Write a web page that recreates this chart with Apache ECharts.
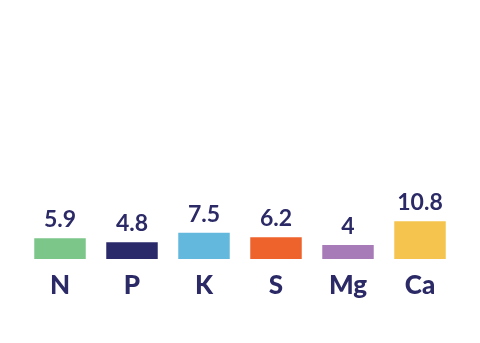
<!DOCTYPE html>
<html><head><meta charset="utf-8">
<script src="https://cdn.jsdelivr.net/npm/echarts@6/dist/echarts.min.js"></script>
<style>html,body{margin:0;padding:0;background:#fff}#c{width:480px;height:343px}</style>
</head><body><div id="c"></div>
<script>
const categories = ['N', 'P', 'K', 'S', 'Mg', 'Ca'];
const values = [5.9, 4.8, 7.5, 6.2, 4, 10.8];
const colors = ['#7CC68A', '#2A2A6B', '#63B8DE', '#EE622B', '#A77BB7', '#F4C44E'];
const textColor = '#2B2A66';
const chart = echarts.init(document.getElementById('c'));
chart.setOption({
  animation: false,
  grid: { left: 24, right: 24, top: 119, bottom: 84 },
  xAxis: {
    type: 'category', data: categories,
    axisLine: { show: false }, axisTick: { show: false },
    axisLabel: { color: textColor, fontFamily: 'Lato', fontWeight: 900, fontSize: 26, margin: 14 }
  },
  yAxis: { type: 'value', min: 0, max: 40, show: false, splitLine: { show: false } },
  series: [{
    type: 'bar', barWidth: '71.5%',
    data: values.map((v, i) => ({ value: v, itemStyle: { color: colors[i] } })),
    label: { show: true, position: 'top', distance: 7, color: textColor, fontFamily: 'Lato', fontWeight: 'bold', fontSize: 23 }
  }]
});
</script></body></html>
